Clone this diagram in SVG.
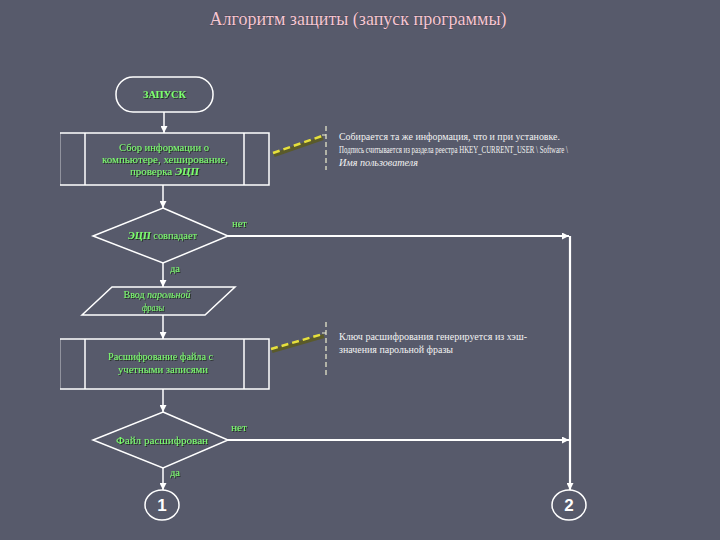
<svg xmlns="http://www.w3.org/2000/svg" width="720" height="540" viewBox="0 0 720 540">
<defs>
<marker id="arr" viewBox="0 0 10 10" refX="10" refY="5" markerWidth="7" markerHeight="7" orient="auto" markerUnits="userSpaceOnUse">
<path d="M0,0 L10,5 L0,10 z" fill="#ffffff"/>
</marker>
<filter id="sh" x="-10%" y="-30%" width="120%" height="160%">
<feDropShadow dx="1" dy="1" stdDeviation="0.6" flood-color="#1a2a1a" flood-opacity="0.9"/>
</filter>
</defs>
<style>
.shape{fill:none;stroke:#ffffff;stroke-width:1.5}
.conn{fill:none;stroke:#ffffff;stroke-width:1.5}
.thick{stroke-width:2.2}
.g{font-family:"Liberation Serif","Times New Roman","DejaVu Serif",serif;font-size:10px;fill:#7dff6e;filter:url(#sh)}
.note{font-family:"Liberation Serif","Times New Roman","DejaVu Serif",serif;font-size:10px;fill:#f2f2f2}
.title{font-family:"Liberation Serif","Times New Roman","DejaVu Serif",serif;font-size:18px;fill:#f4c6d2;stroke:#3a2a35;stroke-width:0.4;paint-order:stroke}
.num{font-family:"Liberation Sans","DejaVu Sans",sans-serif;font-size:17px;font-weight:bold;fill:#ffffff}
.yl{fill:none;stroke:#e6e03c;stroke-width:2.5;stroke-dasharray:7 4}
.ylsh{fill:none;stroke:#5a5a2a;stroke-width:4}
.br{fill:none;stroke:#eeeed0;stroke-width:1.2;stroke-dasharray:5 3}
</style>
<rect width="720" height="540" fill="#575a6b"/>
<text class="title" x="358" y="25" text-anchor="middle" textLength="297" lengthAdjust="spacingAndGlyphs">Алгоритм защиты (запуск программы)</text>

<g id="start">
<rect class="shape" x="116" y="77" width="97" height="35" rx="17" ry="17"/>
<text class="g" x="164.5" y="98" text-anchor="middle" font-weight="bold" textLength="43" lengthAdjust="spacingAndGlyphs">ЗАПУСК</text>
</g>

<g id="collect">
<path class="shape" d="M60,133 H269 V185 H60"/>
<line x1="60.5" y1="133" x2="60.5" y2="185" stroke="#ffffff" stroke-opacity="0.35" stroke-width="1"/>
<line class="shape" x1="85" y1="133" x2="85" y2="185"/>
<line class="shape" x1="244" y1="133" x2="244" y2="185"/>
<text class="g" x="164" y="151" text-anchor="middle" textLength="90" lengthAdjust="spacingAndGlyphs">Сбор информации о</text>
<text class="g" x="165" y="163" text-anchor="middle" textLength="126" lengthAdjust="spacingAndGlyphs">компьютере, хеширование,</text>
<text class="g" x="164.5" y="175" text-anchor="middle" textLength="69" lengthAdjust="spacingAndGlyphs">проверка <tspan font-weight="bold" font-style="italic">ЭЦП</tspan></text>
</g>

<g id="note1">
<line class="ylsh" x1="274" y1="155" x2="323" y2="138"/>
<line class="yl" x1="273" y1="153" x2="322" y2="136"/>
<path class="br" d="M322,135 H326 M326,126 V170"/>
<text class="note" x="339" y="140" textLength="221" lengthAdjust="spacingAndGlyphs">Собирается та же информация, что и при установке.</text>
<text class="note" x="339" y="153" textLength="229" lengthAdjust="spacingAndGlyphs">Подпись считывается из раздела реестра HKEY_CURRENT_USER \ Software \</text>
<text class="note" x="339" y="166" font-style="italic" textLength="79" lengthAdjust="spacingAndGlyphs">Имя пользователя</text>
</g>

<g id="check-sig">
<polygon class="shape" points="163,208 228,236 163,263 93,236"/>
<text class="g" x="162.5" y="239" text-anchor="middle" textLength="69" lengthAdjust="spacingAndGlyphs"><tspan font-weight="bold" font-style="italic">ЭЦП</tspan> совпадает</text>
</g>

<g id="input">
<polygon class="shape" points="112,287 235,287 205,315 82,315"/>
<text class="g" x="157" y="298" text-anchor="middle" textLength="67" lengthAdjust="spacingAndGlyphs">Ввод <tspan font-style="italic">парольной</tspan></text>
<text class="g" x="153" y="311" text-anchor="middle" font-style="italic" textLength="22" lengthAdjust="spacingAndGlyphs">фразы</text>
</g>

<g id="decrypt">
<path class="shape" d="M60,339 H269 V389 H60"/>
<line x1="60.5" y1="339" x2="60.5" y2="389" stroke="#ffffff" stroke-opacity="0.35" stroke-width="1"/>
<line class="shape" x1="85" y1="339" x2="85" y2="389"/>
<line class="shape" x1="244" y1="339" x2="244" y2="389"/>
<text class="g" x="160.5" y="360" text-anchor="middle" textLength="105" lengthAdjust="spacingAndGlyphs">Расшифрование файла с</text>
<text class="g" x="163" y="373" text-anchor="middle" textLength="90" lengthAdjust="spacingAndGlyphs">учетными записями</text>
</g>

<g id="note2">
<line class="ylsh" x1="272" y1="351" x2="324" y2="336"/>
<line class="yl" x1="271" y1="349" x2="323" y2="334"/>
<path class="br" d="M322,333 H326 M326,322 V375"/>
<text class="note" x="339" y="340" textLength="188" lengthAdjust="spacingAndGlyphs">Ключ расшифрования генерируется из хэш-</text>
<text class="note" x="339" y="353" textLength="114" lengthAdjust="spacingAndGlyphs">значения парольной фразы</text>
</g>

<g id="check-file">
<polygon class="shape" points="163,412 228,440 163,468 93,440"/>
<text class="g" x="162" y="444" text-anchor="middle" textLength="92" lengthAdjust="spacingAndGlyphs">Файл расшифрован</text>
</g>

<g id="end1">
<ellipse class="shape" cx="162" cy="505" rx="17" ry="15"/>
<text class="num" x="162" y="511" text-anchor="middle">1</text>
</g>

<g id="end2">
<ellipse class="shape" cx="569" cy="505" rx="17" ry="15"/>
<text class="num" x="569" y="511" text-anchor="middle">2</text>
</g>

<g id="connectors">
<line class="conn" x1="164" y1="112" x2="164" y2="133" marker-end="url(#arr)"/>
<line class="conn" x1="163" y1="185" x2="163" y2="208" marker-end="url(#arr)"/>
<line class="conn" x1="163" y1="263" x2="163" y2="287" marker-end="url(#arr)"/>
<line class="conn" x1="163" y1="315" x2="163" y2="339" marker-end="url(#arr)"/>
<line class="conn" x1="163" y1="389" x2="163" y2="412" marker-end="url(#arr)"/>
<line class="conn" x1="163" y1="468" x2="163" y2="490" marker-end="url(#arr)"/>
<line class="conn thick" x1="228" y1="236" x2="569" y2="236" marker-end="url(#arr)"/>
<line class="conn thick" x1="570" y1="236" x2="570" y2="490" marker-end="url(#arr)"/>
<line class="conn thick" x1="228" y1="440" x2="569" y2="440" marker-end="url(#arr)"/>
<text class="g" x="232" y="227" textLength="15" lengthAdjust="spacingAndGlyphs">нет</text>
<text class="g" x="170" y="272" textLength="10" lengthAdjust="spacingAndGlyphs">да</text>
<text class="g" x="231" y="431" textLength="16" lengthAdjust="spacingAndGlyphs">нет</text>
<text class="g" x="170" y="476" textLength="10" lengthAdjust="spacingAndGlyphs">да</text>
</g>
</svg>
